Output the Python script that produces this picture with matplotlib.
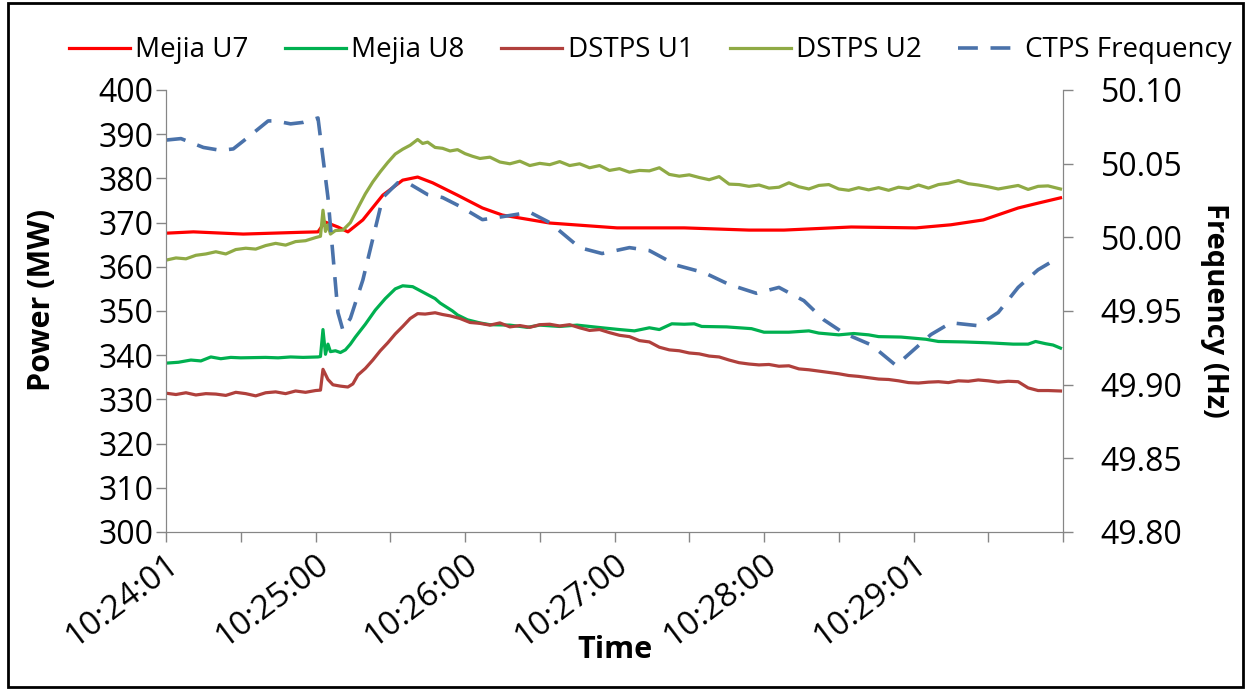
import matplotlib
matplotlib.use("Agg")
import matplotlib.pyplot as plt
from matplotlib.patches import Rectangle
from matplotlib.ticker import FormatStrFormatter

plt.rcParams['font.family'] = ['Open Sans', 'DejaVu Sans']

# ---- data (seconds since 10:24:01) ----
t_u7 = [0, 11, 31, 54, 61, 63, 64, 69, 73, 79, 87, 95, 101, 107, 117, 127, 135,
        154, 181, 208, 234, 248, 275, 301, 315, 328, 342, 350, 359]
mejia_u7 = [367.6, 367.9, 367.4, 367.8, 367.9, 369.5, 370.1, 369.0, 367.9, 370.6,
            376.2, 379.6, 380.3, 379.0, 376.2, 373.3, 371.7, 369.9, 368.8, 368.8,
            368.3, 368.3, 369.0, 368.8, 369.5, 370.6, 373.3, 374.4, 375.6]

t_u8 = [0, 5, 10, 14, 18, 22, 26, 30, 40, 45, 50, 55, 61, 62, 63, 64, 65, 66, 68,
        70, 72, 74, 76, 80, 84, 88, 92, 95, 99, 103, 108, 110, 115, 117, 121, 126,
        130, 138, 145, 150, 158, 165, 175, 182, 188, 194, 198, 203, 208, 212, 215,
        225, 235, 240, 250, 258, 262, 270, 276, 282, 286, 295, 305, 310, 320, 330,
        340, 346, 349, 353, 356, 359]
mejia_u8 = [338.2, 338.4, 338.9, 338.7, 339.6, 339.2, 339.5, 339.4, 339.5, 339.4,
            339.6, 339.5, 339.6, 339.7, 345.8, 340.2, 342.5, 340.8, 341.0, 340.6,
            341.2, 342.5, 344.1, 347.0, 350.2, 352.8, 355.0, 355.7, 355.5, 354.3,
            352.8, 351.8, 350.0, 349.1, 348.0, 347.3, 346.9, 346.8, 346.3, 346.8,
            346.5, 346.8, 346.2, 345.8, 345.5, 346.2, 345.8, 347.1, 347.0, 347.1,
            346.5, 346.4, 346.0, 345.2, 345.2, 345.5, 345.0, 344.6, 344.9, 344.6,
            344.2, 344.1, 343.6, 343.1, 343.0, 342.8, 342.5, 342.5, 343.1, 342.6,
            342.3, 341.6]

t_u1 = [0, 4, 8, 12, 16, 20, 24, 28, 32, 36, 40, 44, 48, 52, 56, 60, 62, 63, 65,
        67, 70, 73, 75, 77, 80, 83, 86, 89, 92, 95, 98, 101, 104, 108, 111, 114,
        118, 122, 126, 130, 134, 138, 142, 146, 150, 154, 158, 162, 166, 170, 174,
        178, 182, 186, 190, 194, 198, 202, 206, 210, 214, 218, 222, 226, 230, 234,
        238, 242, 246, 250, 254, 258, 262, 266, 270, 274, 278, 282, 286, 290, 294,
        298, 302, 306, 310, 314, 318, 322, 326, 330, 334, 338, 342, 346, 350, 354,
        359]
dstps_u1 = [331.4, 331.1, 331.5, 331.0, 331.3, 331.2, 330.9, 331.6, 331.3, 330.8,
            331.5, 331.7, 331.3, 331.9, 331.6, 332.0, 332.1, 336.8, 334.5, 333.3,
            333.0, 332.8, 333.5, 335.5, 337.0, 338.9, 341.0, 342.8, 344.8, 346.5,
            348.3, 349.4, 349.3, 349.6, 349.2, 348.9, 348.3, 347.4, 347.2, 346.8,
            347.3, 346.4, 346.7, 346.3, 346.9, 347.0, 346.6, 346.9, 346.2, 345.6,
            345.8, 345.1, 344.5, 344.2, 343.3, 343.0, 341.8, 341.2, 341.0, 340.5,
            340.3, 339.8, 339.6, 338.9, 338.3, 338.0, 337.8, 337.9, 337.5, 337.6,
            336.9, 336.7, 336.4, 336.1, 335.8, 335.4, 335.2, 334.9, 334.6, 334.5,
            334.2, 333.8, 333.7, 333.9, 334.0, 333.8, 334.2, 334.1, 334.4, 334.2,
            333.9, 334.1, 334.0, 332.6, 332.0, 332.0, 331.9]

t_u2 = [0, 4, 8, 12, 16, 20, 24, 28, 32, 36, 40, 44, 48, 52, 56, 60, 62, 63, 64,
        65, 66, 68, 71, 74, 77, 80, 83, 86, 89, 92, 95, 98, 101, 103, 105, 108,
        111, 114, 117, 120, 123, 126, 130, 134, 138, 142, 146, 150, 154, 158, 162,
        166, 170, 174, 178, 182, 186, 190, 194, 198, 202, 206, 210, 214, 218, 222,
        226, 230, 234, 238, 242, 246, 250, 254, 258, 262, 266, 270, 274, 278, 282,
        286, 290, 294, 298, 302, 306, 310, 314, 318, 322, 326, 330, 334, 338, 342,
        346, 350, 354, 359]
dstps_u2 = [361.5, 362.0, 361.8, 362.6, 362.9, 363.4, 362.9, 363.9, 364.2, 364.0,
            364.8, 365.3, 364.9, 365.7, 365.9, 366.6, 366.9, 372.8, 368.0, 369.5,
            367.4, 368.2, 368.3, 370.0, 373.3, 376.5, 379.2, 381.5, 383.6, 385.5,
            386.6, 387.5, 388.8, 387.9, 388.2, 387.0, 386.8, 386.2, 386.5, 385.6,
            385.0, 384.5, 384.8, 383.7, 383.3, 383.9, 382.9, 383.4, 383.1, 383.8,
            382.9, 383.3, 382.4, 382.9, 381.8, 382.2, 381.4, 381.8, 381.7, 382.4,
            380.9, 380.5, 380.8, 380.2, 379.7, 380.4, 378.7, 378.6, 378.2, 378.5,
            377.8, 378.0, 379.0, 378.1, 377.6, 378.4, 378.6, 377.6, 377.3, 377.9,
            377.4, 377.9, 377.3, 378.0, 377.7, 378.5, 377.8, 378.6, 378.9, 379.5,
            378.8, 378.5, 378.1, 377.6, 378.0, 378.4, 377.5, 378.2, 378.3, 377.6]

t_freq = [0, 6, 15, 22, 27, 33, 41, 44, 50, 55, 61, 65, 69, 71, 74, 79, 87, 93,
          98, 105, 111, 118, 127, 135, 146, 154, 166, 175, 186, 194, 205, 216,
          226, 237, 246, 256, 264, 272, 283, 293, 307, 315, 326, 334, 342, 350,
          355, 359]
ctps_freq = [50.066, 50.067, 50.061, 50.059, 50.060, 50.068, 50.079, 50.079,
             50.077, 50.078, 50.081, 50.027, 49.949, 49.937, 49.945, 49.971,
             50.027, 50.037, 50.036, 50.029, 50.027, 50.021, 50.012, 50.014,
             50.017, 50.010, 49.993, 49.989, 49.993, 49.991, 49.981, 49.976,
             49.968, 49.962, 49.966, 49.957, 49.944, 49.935, 49.927, 49.913,
             49.934, 49.942, 49.940, 49.949, 49.966, 49.978, 49.983, 49.983]

tick_pos = [0, 30, 60, 90, 120, 150, 180, 210, 240, 270, 300, 330, 360]
tick_labels = ["10:24:01", "", "10:25:00", "", "10:26:00", "", "10:27:00", "",
               "10:28:00", "", "10:29:01", "", ""]

GRAY = "#868686"

fig = plt.figure(figsize=(12.5, 6.9), dpi=100)
ax = fig.add_axes([0.1328, 0.229, 0.7176, 0.6406])
ax2 = ax.twinx()

l1, = ax.plot(t_u7, mejia_u7, color="#FF0000", lw=2.3, label="Mejia U7")
l2, = ax.plot(t_u8, mejia_u8, color="#00B050", lw=2.3, label="Mejia U8")
l3, = ax.plot(t_u1, dstps_u1, color="#B0403C", lw=2.3, label="DSTPS U1")
l4, = ax.plot(t_u2, dstps_u2, color="#8FAA45", lw=2.3, label="DSTPS U2")
l5, = ax2.plot(t_freq, ctps_freq, color="#4A72AA", lw=2.6,
               linestyle=(0, (5.5, 3.5)), label="CTPS Frequency")

ax.set_xlim(0, 360)
ax.set_ylim(300, 400)
ax.set_yticks(range(300, 401, 10))
ax2.set_ylim(49.80, 50.10)
ax2.set_yticks([49.80, 49.85, 49.90, 49.95, 50.00, 50.05, 50.10])
ax2.yaxis.set_major_formatter(FormatStrFormatter("%.2f"))

ax.set_xticks(tick_pos)
ax.set_xticklabels(tick_labels, rotation=37, ha="right", rotation_mode="anchor")

for a in (ax, ax2):
    a.spines["top"].set_visible(False)
    for s in ("left", "right", "bottom"):
        a.spines[s].set_color(GRAY)
    a.tick_params(colors=GRAY, labelcolor="black", labelsize=23, length=7, width=1)
ax.tick_params(axis="y", pad=2)
ax2.tick_params(axis="y", pad=20)
ax.tick_params(axis="x", pad=4, labelsize=24)

fig.text(0.034, 0.565, "Power (MW)", rotation=90, ha="center", va="center",
         fontsize=22, fontweight="bold")
fig.text(0.972, 0.55, "Frequency (Hz)", rotation=-90, ha="center", va="center",
         fontsize=21, fontweight="bold")
fig.text(0.492, 0.058, "Time", ha="center", va="center", fontsize=22, fontweight="bold")

fig.legend(handles=[l1, l2, l3, l4, l5], loc="center", bbox_to_anchor=(0.52, 0.927),
           ncol=5, frameon=False, fontsize=20, handlelength=2.2, handletextpad=0.2,
           columnspacing=1.3)

fig.patches.append(Rectangle((0.006, 0.004), 0.988, 0.992, transform=fig.transFigure,
                             fill=False, edgecolor="black", lw=2))

fig.savefig("out.png", dpi=100)
